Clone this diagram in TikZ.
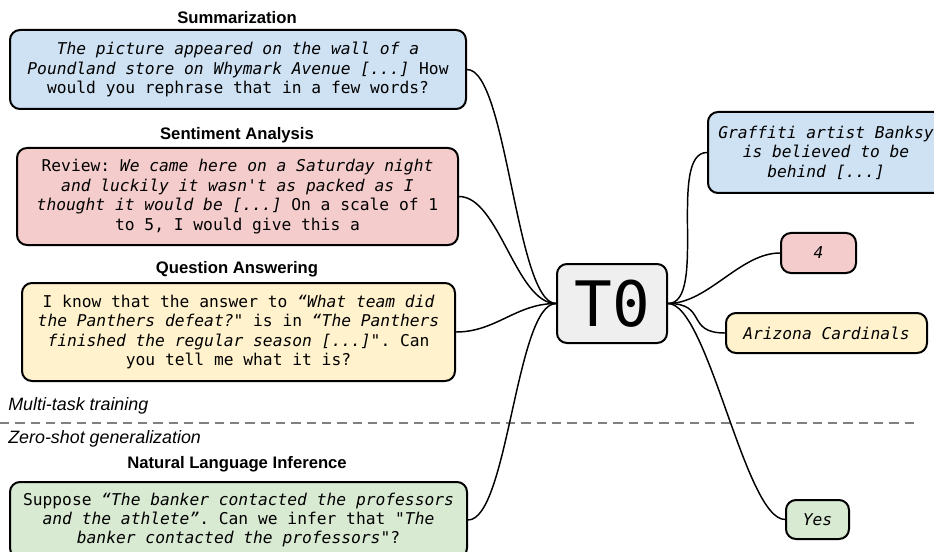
\documentclass[tikz,border=0pt]{standalone}
\usepackage{fontspec}
\setmainfont{Liberation Sans}
\setsansfont{Liberation Sans}
\setmonofont{DejaVu Sans Mono}
\definecolor{cblue}{HTML}{CFE2F3}
\definecolor{cred}{HTML}{F4CCCC}
\definecolor{cyellow}{HTML}{FFF2CC}
\definecolor{cgreen}{HTML}{D9EAD3}
\definecolor{cgray}{HTML}{EFEFEF}
\tikzset{
  t0fig/.style={x=0.75pt,y=-0.75pt},
  taskbox/.style={draw,line width=1.5pt,rounded corners=7.5pt,inner sep=0pt,align=center,
    font=\fontsize{12.2}{14.6}\selectfont\ttfamily},
  tasktitle/.style={font=\fontsize{12.5}{15}\selectfont\sffamily\bfseries},
  phase/.style={anchor=west,inner sep=0pt,font=\fontsize{13.4}{16}\selectfont\sffamily\itshape},
  link/.style={line width=1.1pt}
}

\begin{document}
\begin{tikzpicture}[t0fig]
    \path[use as bounding box,clip] (0,0) rectangle (934,552);
    % training tasks
    \node[tasktitle] (summtitle) at (237,18) {Summarization};
    \node[taskbox,fill=cblue,minimum width=342pt,minimum height=59.25pt] (summ) at (238,69.5)
      {{\itshape The picture appeared on the wall of a}\\ {\itshape Poundland store on Whymark Avenue [...]} How\\ would you rephrase that in a few words?};
    \node[tasktitle] (sentititle) at (237,135) {Sentiment Analysis};
    \node[taskbox,fill=cred,minimum width=330.75pt,minimum height=72.75pt] (senti) at (237.5,196.5)
      {Review: {\itshape We came here on a Saturday night}\\ {\itshape and luckily it wasn't as packed as I}\\ {\itshape thought it would be [...]} On a scale of 1\\ to 5, I would give this a};
    \node[tasktitle] (qatitle) at (237,269) {Question Answering};
    \node[taskbox,fill=cyellow,minimum width=324.75pt,minimum height=73.5pt] (qa) at (238.5,332)
      {I know that the answer to {\itshape “What team did}\\ {\itshape the Panthers defeat?"} is in {\itshape “The Panthers}\\ {\itshape finished the regular season [...]"}. Can\\ you tell me what it is?};
    % phases
    \node[phase] (multi) at (8,406) {Multi-task training};
    \draw[gray,line width=1.5pt,dash pattern=on 7pt off 4.5pt] (0,423) coordinate (split) -- (920,423);
    \node[phase] (zero) at (8,439) {Zero-shot generalization};
    % held-out task
    \node[tasktitle] (nlititle) at (237,464) {Natural Language Inference};
    \node[taskbox,fill=cgreen,minimum width=342.75pt,minimum height=57pt] (nli) at (238.5,520)
      {Suppose {\itshape “The banker contacted the professors}\\ {\itshape and the athlete”}. Can we infer that "{\itshape The}\\ {\itshape banker contacted the professors}"?};
    % model
    \node[taskbox,fill=cgray,minimum width=82.5pt,minimum height=59.25pt,font=\fontsize{47}{50}\selectfont\ttfamily] (tzero) at (612,303.5) {T0};
    % outputs
    \node[taskbox,fill=cblue,minimum width=177pt,minimum height=60.75pt] (banksy) at (826,152.5)
      {\itshape Graffiti artist Banksy\\ \itshape is believed to be\\ \itshape behind [...]};
    \node[taskbox,fill=cred,minimum width=56.25pt,minimum height=30pt] (four) at (818.5,253) {\itshape 4};
    \node[taskbox,fill=cyellow,minimum width=150.75pt,minimum height=30pt] (ariz) at (826.5,333) {\itshape Arizona Cardinals};
    \node[taskbox,fill=cgreen,minimum width=47.25pt,minimum height=29.25pt] (yes) at (817.5,519.5) {\itshape Yes};
    % links
    \foreach \t in {summ,senti,qa,nli}
      \draw[link] (\t.east) .. controls +(40,0) and +(-40,0) .. (tzero.west);
    \foreach \t in {banksy,four,ariz,yes}
      \draw[link] (tzero.east) .. controls +(40,0) and +(-40,0) .. (\t.west);
\end{tikzpicture}
\end{document}
